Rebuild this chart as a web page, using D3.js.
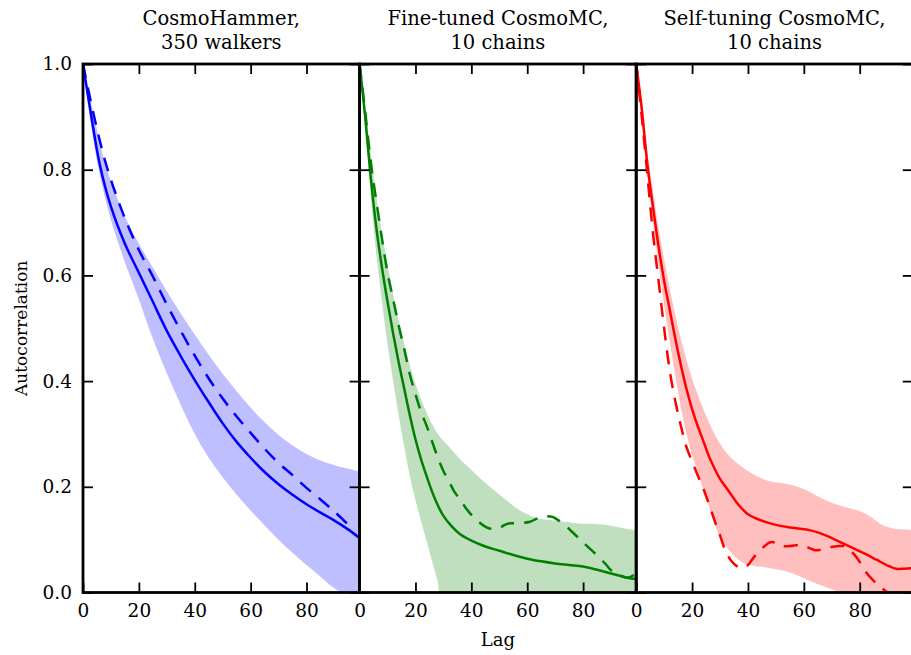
<!DOCTYPE html>
<html>
<head>
<meta charset="utf-8">
<script src="https://cdn.jsdelivr.net/npm/d3@7"></script>
<style>
  body { margin: 0; background: #fff; }
  svg { display: block; font-family: 'DejaVu Serif', serif; }
</style>
</head>
<body>
<div id="chart"></div>
<script>
// [lag, autocorrelation] pairs

// CosmoHammer, 350 walkers
const hammerMean = [[0,1.0],[3,0.9],[6,0.81],[10,0.73],[15,0.66],[20,0.605],[25,0.55],[30,0.495],[35,0.447],[40,0.402],[45,0.36],[50,0.32],[55,0.285],[60,0.255],[65,0.228],[70,0.205],[75,0.185],[80,0.167],[85,0.151],[90,0.136],[95,0.119],[99,0.103]]
const hammerMedian = [[0,1.0],[4,0.9],[8,0.815],[12,0.75],[16,0.695],[20,0.648],[25,0.598],[30,0.545],[35,0.495],[40,0.448],[45,0.405],[50,0.367],[55,0.333],[60,0.302],[65,0.272],[70,0.245],[75,0.222],[80,0.198],[85,0.176],[90,0.153],[95,0.128]]
const hammerHigh = [[0,1.0],[4,0.9],[8,0.81],[12,0.75],[16,0.7],[20,0.66],[25,0.615],[30,0.57],[35,0.528],[40,0.488],[45,0.45],[50,0.414],[55,0.381],[60,0.35],[65,0.322],[70,0.298],[75,0.278],[80,0.262],[85,0.25],[90,0.241],[95,0.234],[99,0.229]]
const hammerLow = [[0,1.0],[3,0.88],[6,0.79],[10,0.705],[15,0.625],[20,0.555],[25,0.48],[30,0.415],[35,0.355],[40,0.3],[45,0.255],[50,0.218],[55,0.185],[60,0.155],[65,0.127],[70,0.1],[75,0.075],[80,0.052],[85,0.03],[90,0.008],[93,0.0],[99,0.0]]

// Fine-tuned CosmoMC, 10 chains
const fineMean = [[0,1.0],[2,0.9],[4,0.785],[6,0.69],[8,0.615],[10,0.55],[12,0.49],[14,0.435],[16,0.385],[18,0.335],[20,0.29],[22,0.252],[24,0.22],[26,0.19],[28,0.165],[30,0.145],[33,0.125],[36,0.11],[40,0.098],[45,0.087],[50,0.079],[55,0.071],[60,0.064],[65,0.059],[70,0.055],[75,0.052],[80,0.049],[85,0.043],[90,0.036],[95,0.029],[98,0.026],[99,0.028]]
const fineMedian = [[0,1.0],[2,0.91],[4,0.815],[6,0.74],[8,0.67],[10,0.605],[12,0.555],[14,0.505],[16,0.46],[18,0.412],[20,0.375],[22,0.342],[24,0.315],[26,0.285],[28,0.255],[30,0.23],[32,0.21],[34,0.19],[36,0.176],[38,0.16],[40,0.147],[42,0.137],[44,0.128],[46,0.122],[48,0.12],[50,0.122],[52,0.128],[54,0.131],[57,0.131],[61,0.134],[64,0.141],[67,0.144],[69,0.143],[71,0.137],[73,0.13],[76,0.115],[79,0.1],[82,0.085],[85,0.07],[88,0.054],[90,0.042],[93,0.033],[96,0.028],[99,0.036]]
const fineHigh = [[0,1.0],[2,0.92],[4,0.83],[6,0.75],[8,0.68],[10,0.62],[12,0.565],[14,0.515],[16,0.47],[18,0.43],[20,0.395],[22,0.365],[24,0.34],[26,0.318],[28,0.3],[30,0.287],[33,0.27],[36,0.252],[40,0.232],[44,0.212],[48,0.194],[52,0.177],[56,0.16],[60,0.148],[64,0.14],[68,0.137],[72,0.135],[76,0.132],[80,0.13],[84,0.13],[88,0.128],[92,0.124],[96,0.12],[99,0.117]]
const fineLow = [[0,1.0],[2,0.88],[4,0.75],[6,0.64],[8,0.55],[10,0.47],[12,0.4],[14,0.335],[16,0.275],[18,0.22],[20,0.175],[22,0.135],[24,0.097],[26,0.058],[28,0.02],[29,0.0],[99,0.0]]

// Self-tuning CosmoMC, 10 chains
const selfMean = [[0,1.0],[2,0.915],[4,0.81],[6,0.73],[8,0.655],[10,0.59],[12,0.535],[14,0.48],[16,0.43],[18,0.385],[20,0.347],[22,0.315],[24,0.287],[26,0.258],[28,0.235],[30,0.215],[32,0.2],[34,0.185],[36,0.17],[38,0.158],[40,0.148],[43,0.14],[46,0.134],[50,0.128],[54,0.124],[58,0.121],[62,0.118],[66,0.112],[70,0.103],[74,0.093],[78,0.083],[82,0.073],[86,0.062],[90,0.051],[93,0.045],[96,0.045],[99,0.046]]
const selfMedian = [[0,1.0],[2,0.9],[4,0.79],[6,0.68],[8,0.59],[10,0.5],[12,0.42],[14,0.362],[16,0.315],[18,0.275],[20,0.248],[22,0.222],[24,0.197],[26,0.168],[28,0.137],[30,0.108],[32,0.078],[34,0.06],[36,0.05],[38,0.046],[40,0.052],[42,0.066],[44,0.078],[46,0.088],[48,0.095],[50,0.094],[52,0.088],[55,0.088],[59,0.09],[62,0.084],[64,0.08],[67,0.082],[71,0.087],[75,0.087],[78,0.072],[80,0.058],[82,0.04],[85,0.022],[88,0.008],[90,0.0]]
const selfHigh = [[0,1.0],[2,0.92],[4,0.835],[6,0.76],[8,0.69],[10,0.63],[12,0.575],[14,0.525],[16,0.48],[18,0.44],[20,0.405],[22,0.375],[24,0.347],[26,0.322],[28,0.3],[30,0.282],[33,0.26],[36,0.245],[40,0.23],[44,0.218],[48,0.21],[52,0.207],[56,0.203],[60,0.196],[64,0.185],[68,0.174],[72,0.166],[76,0.16],[80,0.154],[84,0.143],[88,0.128],[92,0.121],[96,0.119],[99,0.118]]
const selfLow = [[0,1.0],[2,0.89],[4,0.79],[6,0.7],[8,0.62],[10,0.545],[12,0.475],[14,0.41],[16,0.35],[18,0.3],[20,0.26],[22,0.228],[24,0.195],[26,0.163],[28,0.13],[30,0.105],[32,0.088],[34,0.075],[36,0.065],[38,0.057],[40,0.053],[44,0.049],[48,0.046],[52,0.042],[56,0.036],[60,0.027],[64,0.018],[68,0.01],[72,0.002],[73,0.0],[99,0.0]]

const titles = [['CosmoHammer,', '350 walkers'], ['Fine-tuned CosmoMC,', '10 chains'], ['Self-tuning CosmoMC,', '10 chains']]
const colors = ['#0000ff', '#008000', '#ff0000']
const xTicks = [0, 20, 40, 60, 80]
const yTicks = [0, 0.2, 0.4, 0.6, 0.8, 1.0]

const panels = [
    {title: titles[0], color: colors[0], mean: hammerMean, median: hammerMedian, low: hammerLow, high: hammerHigh},
    {title: titles[1], color: colors[1], mean: fineMean, median: fineMedian, low: fineLow, high: fineHigh},
    {title: titles[2], color: colors[2], mean: selfMean, median: selfMedian, low: selfLow, high: selfHigh}
]

const width = 911
const height = 655
const plotTop = 64
const plotBottom = 592.5
const plotLeft = 83
const panelW = 276.6

const svg = d3.select('#chart').append('svg')
    .attr('width', width)
    .attr('height', height)

const yScale = d3.scaleLinear().domain([0, 1]).range([plotBottom, plotTop])

function styleAxis(g) {
    g.attr('font-family', null).attr('font-size', null)
    g.select('.domain').remove()
    g.selectAll('.tick line').attr('stroke', '#000').attr('stroke-width', 1.8)
    g.selectAll('.tick text').attr('fill', '#000').style('font-size', '18.5px')
}

panels.forEach((p, i) => {
    const x0 = plotLeft + i * panelW
    const xScale = d3.scaleLinear().domain([0, 99]).range([x0, x0 + panelW])

    svg.append('clipPath')
        .attr('id', 'clip' + i)
        .append('rect')
        .attr('x', x0)
        .attr('y', plotTop)
        .attr('width', panelW)
        .attr('height', plotBottom - plotTop)

    const plot = svg.append('g').attr('clip-path', `url(#clip${i})`)

    const line = d3.line()
        .x(d => xScale(d[0]))
        .y(d => yScale(d[1]))
        .curve(d3.curveCatmullRom.alpha(0.5))

    // shaded band: upper edge forward, lower edge back
    const bandPath = line(p.high) + line(p.low.slice().reverse()).replace(/^M/, 'L') + 'Z'
    plot.append('path')
        .attr('d', bandPath)
        .attr('fill', p.color)
        .attr('fill-opacity', 0.25)
        .attr('stroke', 'none')

    plot.append('path')
        .attr('d', line(p.mean))
        .attr('fill', 'none')
        .attr('stroke', p.color)
        .attr('stroke-width', 2.5)

    plot.append('path')
        .attr('d', line(p.median))
        .attr('fill', 'none')
        .attr('stroke', p.color)
        .attr('stroke-width', 2.5)
        .attr('stroke-dasharray', '14,10')

    // axes, ticks pointing inward
    svg.append('g')
        .attr('transform', `translate(0,${plotBottom})`)
        .call(d3.axisBottom(xScale).tickValues(xTicks).tickSizeInner(-10).tickSizeOuter(0).tickPadding(11).tickFormat(d3.format('d')))
        .call(styleAxis)

    svg.append('g')
        .attr('transform', `translate(0,${plotTop})`)
        .call(d3.axisTop(xScale).tickValues(xTicks).tickSizeInner(-10).tickSizeOuter(0).tickFormat(() => ''))
        .call(styleAxis)

    svg.append('g')
        .attr('transform', `translate(${x0},0)`)
        .call(d3.axisLeft(yScale).tickValues(yTicks).tickSizeInner(-10).tickSizeOuter(0).tickPadding(11)
            .tickFormat(i === 0 ? d3.format('.1f') : () => ''))
        .call(styleAxis)

    svg.append('g')
        .attr('transform', `translate(${x0 + panelW},0)`)
        .call(d3.axisRight(yScale).tickValues(yTicks).tickSizeInner(-10).tickSizeOuter(0).tickFormat(() => ''))
        .call(styleAxis)

    svg.append('rect')
        .attr('x', x0)
        .attr('y', plotTop)
        .attr('width', panelW)
        .attr('height', plotBottom - plotTop)
        .attr('fill', 'none')
        .attr('stroke', '#000')
        .attr('stroke-width', 2.8)

    const title = svg.append('text')
        .attr('text-anchor', 'middle')
        .style('font-size', '19.5px')
    p.title.forEach((t, k) => {
        title.append('tspan')
            .attr('x', x0 + panelW / 2)
            .attr('y', 25 + k * 24.3)
            .text(t)
    })
})

svg.append('text')
    .text('Autocorrelation')
    .attr('text-anchor', 'middle')
    .attr('transform', `translate(26.5,${(plotTop + plotBottom) / 2}) rotate(-90)`)
    .style('font-size', '17px')

svg.append('text')
    .text('Lag')
    .attr('text-anchor', 'middle')
    .attr('x', plotLeft + panelW * 1.5)
    .attr('y', 646)
    .style('font-size', '18px')
</script>
</body>
</html>
